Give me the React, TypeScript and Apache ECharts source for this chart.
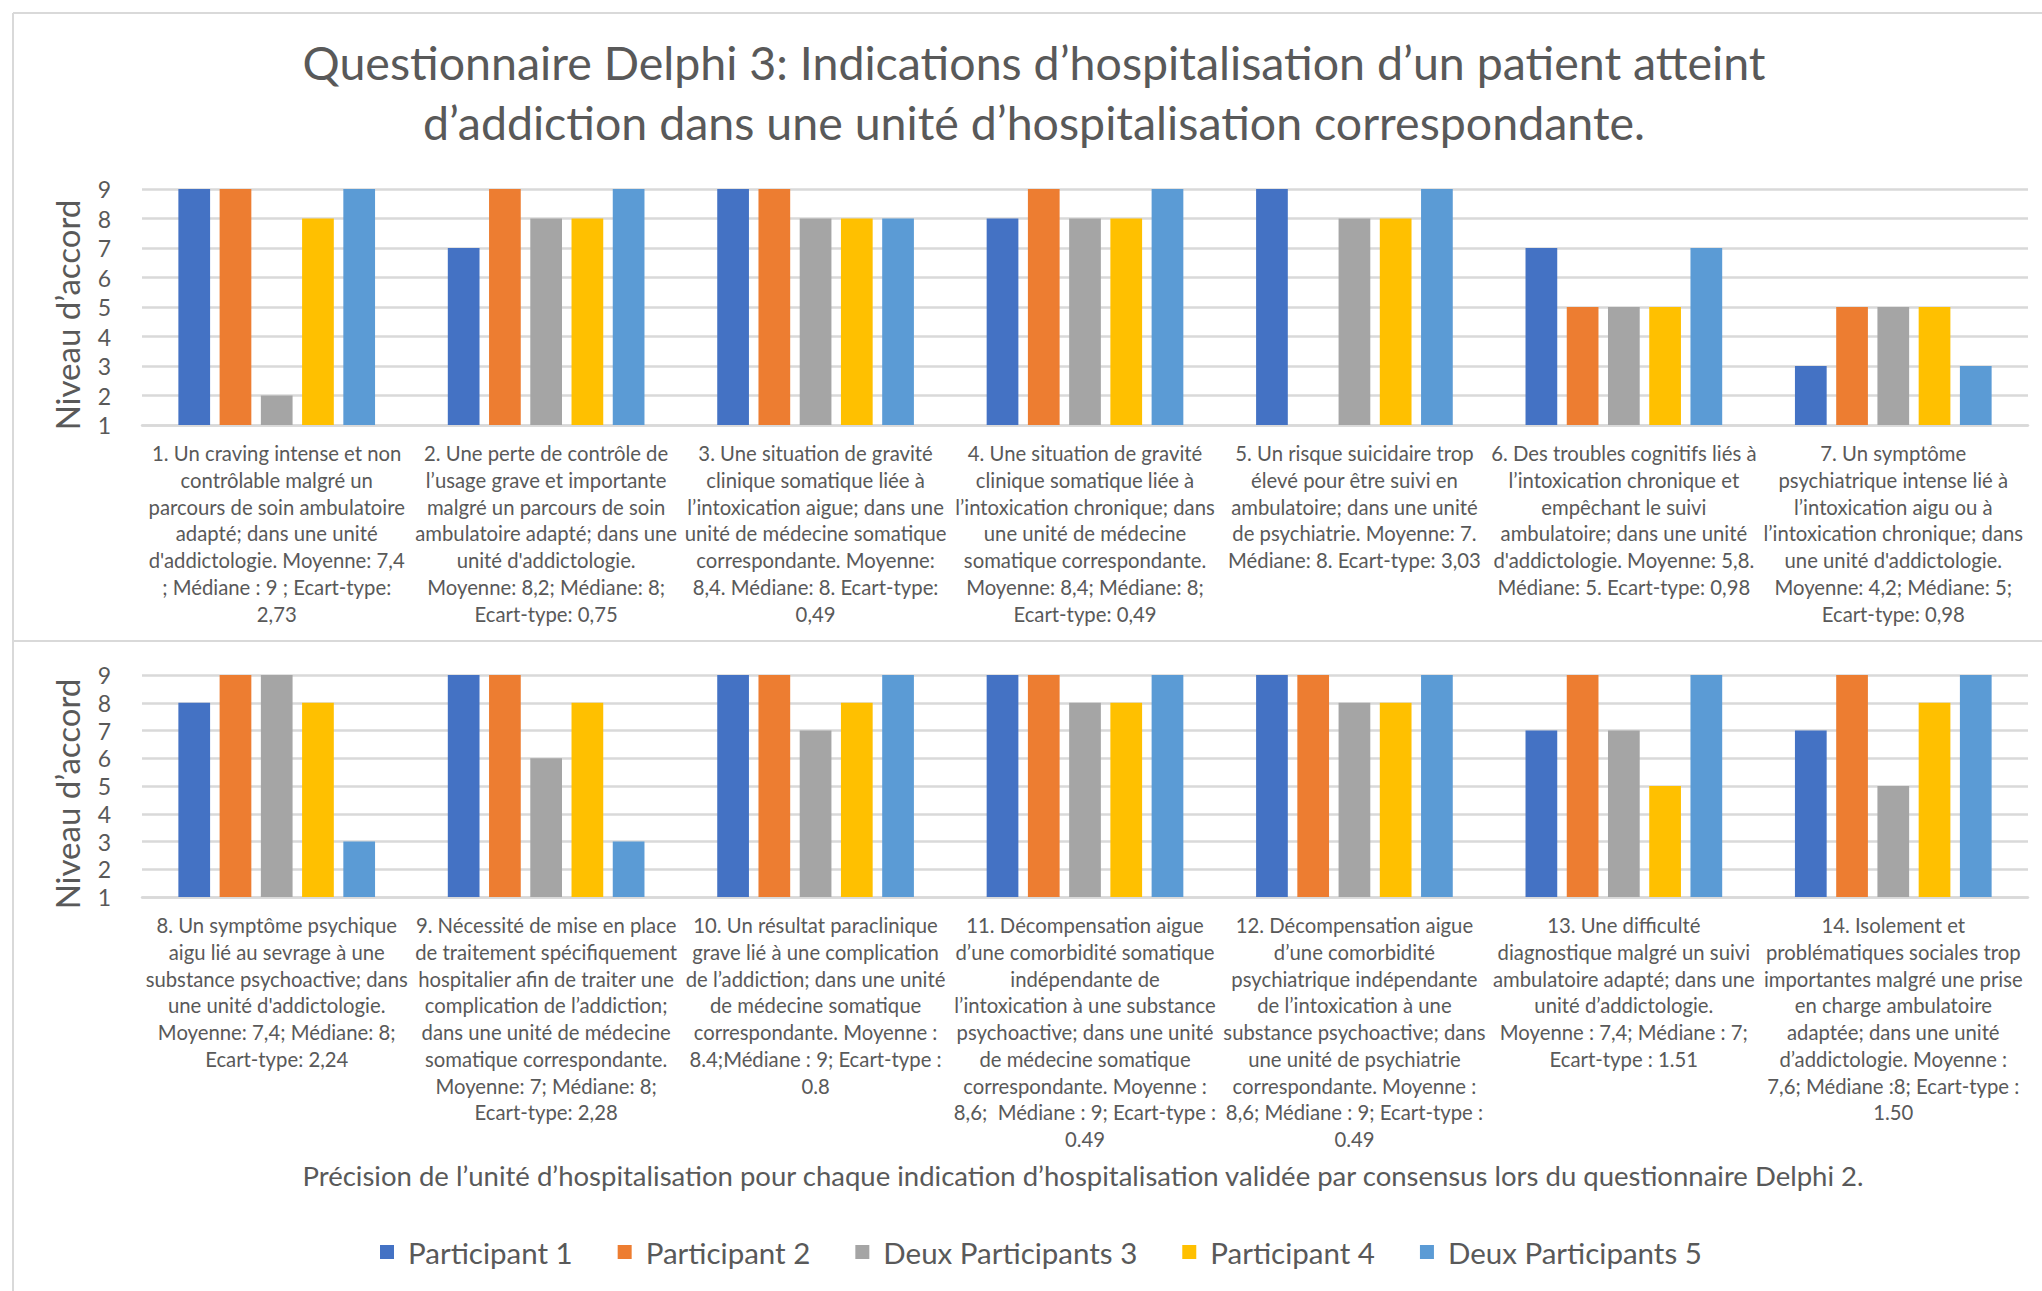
import React, { useEffect, useRef } from "react";
import * as echarts from "echarts";

const titleText =
  "Questionnaire Delphi 3: Indications d’hospitalisation d’un patient atteint\nd’addiction dans une unité d’hospitalisation correspondante.";
const captionText =
  "Précision de l’unité d’hospitalisation pour chaque indication d’hospitalisation validée par consensus lors du questionnaire Delphi 2.";
const yAxisName = "Niveau d’accord";

const categoriesTop = [
  "1. Un craving intense et non\ncontrôlable malgré un\nparcours de soin ambulatoire\nadapté; dans une unité\nd'addictologie. Moyenne: 7,4\n; Médiane : 9 ; Ecart-type:\n2,73",
  "2. Une perte de contrôle de\nl’usage grave et importante\nmalgré un parcours de soin\nambulatoire adapté; dans une\nunité d'addictologie.\nMoyenne: 8,2; Médiane: 8;\nEcart-type: 0,75",
  "3. Une situation de gravité\nclinique somatique liée à\nl’intoxication aigue; dans une\nunité de médecine somatique\ncorrespondante. Moyenne:\n8,4. Médiane: 8. Ecart-type:\n0,49",
  "4. Une situation de gravité\nclinique somatique liée à\nl’intoxication chronique; dans\nune unité de médecine\nsomatique correspondante.\nMoyenne: 8,4; Médiane: 8;\nEcart-type: 0,49",
  "5. Un risque suicidaire trop\nélevé pour être suivi en\nambulatoire; dans une unité\nde psychiatrie. Moyenne: 7.\nMédiane: 8. Ecart-type: 3,03",
  "6. Des troubles cognitifs liés à\nl’intoxication chronique et\nempêchant le suivi\nambulatoire; dans une unité\nd'addictologie. Moyenne: 5,8.\nMédiane: 5. Ecart-type: 0,98",
  "7. Un symptôme\npsychiatrique intense lié à\nl’intoxication aigu ou à\nl’intoxication chronique; dans\nune unité d'addictologie.\nMoyenne: 4,2; Médiane: 5;\nEcart-type: 0,98",
];

const categoriesBottom = [
  "8. Un symptôme psychique\naigu lié au sevrage à une\nsubstance psychoactive; dans\nune unité d'addictologie.\nMoyenne: 7,4; Médiane: 8;\nEcart-type: 2,24",
  "9. Nécessité de mise en place\nde traitement spécifiquement\nhospitalier afin de traiter une\ncomplication de l’addiction;\ndans une unité de médecine\nsomatique correspondante.\nMoyenne: 7; Médiane: 8;\nEcart-type: 2,28",
  "10. Un résultat paraclinique\ngrave lié à une complication\nde l’addiction; dans une unité\nde médecine somatique\ncorrespondante. Moyenne :\n8.4;Médiane : 9; Ecart-type :\n0.8",
  "11. Décompensation aigue\nd’une comorbidité somatique\nindépendante de\nl’intoxication à une substance\npsychoactive; dans une unité\nde médecine somatique\ncorrespondante. Moyenne :\n8,6;  Médiane : 9; Ecart-type :\n0.49",
  "12. Décompensation aigue\nd’une comorbidité\npsychiatrique indépendante\nde l’intoxication à une\nsubstance psychoactive; dans\nune unité de psychiatrie\ncorrespondante. Moyenne :\n8,6; Médiane : 9; Ecart-type :\n0.49",
  "13. Une difficulté\ndiagnostique malgré un suivi\nambulatoire adapté; dans une\nunité d’addictologie.\nMoyenne : 7,4; Médiane : 7;\nEcart-type : 1.51",
  "14. Isolement et\nproblématiques sociales trop\nimportantes malgré une prise\nen charge ambulatoire\nadaptée; dans une unité\nd’addictologie. Moyenne :\n7,6; Médiane :8; Ecart-type :\n1.50",
];

const seriesNames = [
  "Participant 1",
  "Participant 2",
  "Deux Participants 3",
  "Participant 4",
  "Deux Participants 5",
];
const seriesColors = ["#4472C4", "#ED7D31", "#A5A5A5", "#FFC000", "#5B9BD5"];

const p1Top = [9, 7, 9, 8, 9, 7, 3];
const p2Top = [9, 9, 9, 9, 1, 5, 5];
const p3Top = [2, 8, 8, 8, 8, 5, 5];
const p4Top = [8, 8, 8, 8, 8, 5, 5];
const p5Top = [9, 9, 8, 9, 9, 7, 3];

const p1Bottom = [8, 9, 9, 9, 9, 7, 7];
const p2Bottom = [9, 9, 9, 9, 9, 9, 9];
const p3Bottom = [9, 6, 7, 8, 8, 7, 5];
const p4Bottom = [8, 8, 8, 8, 8, 5, 8];
const p5Bottom = [3, 3, 9, 9, 9, 9, 9];

const yTicks = [1, 2, 3, 4, 5, 6, 7, 8, 9];

const FONT = "Lato";
const TXT = "#595959";
const GRID_LINE = "#D9D9D9";

export default function App() {
  const ref = useRef<HTMLDivElement>(null);

  useEffect(() => {
    if (!ref.current) return;
    const chart = echarts.init(ref.current, undefined, { renderer: "svg" });

    const topData = [p1Top, p2Top, p3Top, p4Top, p5Top];
    const bottomData = [p1Bottom, p2Bottom, p3Bottom, p4Bottom, p5Bottom];

    const makeX = (cats: string[], gridIndex: number) => ({
      type: "category",
      gridIndex,
      data: cats,
      axisTick: { show: false },
      axisLine: { show: true, lineStyle: { color: GRID_LINE, width: 2.5 } },
      axisLabel: {
        interval: 0,
        color: TXT,
        fontFamily: FONT,
        fontSize: 20.3,
        lineHeight: 26.7,
        margin: 15,
        align: "center",
      },
    });

    const makeY = (gridIndex: number) => ({
      type: "value",
      gridIndex,
      min: yTicks[0],
      max: yTicks[yTicks.length - 1],
      interval: 1,
      name: yAxisName,
      nameLocation: "middle",
      nameRotate: 90,
      nameGap: 59,
      nameTextStyle: {
        color: TXT,
        fontFamily: FONT,
        fontSize: 33,
        padding: [0, 16, 0, 0],
      },
      axisLine: { show: false },
      axisTick: { show: false },
      axisLabel: {
        color: TXT,
        fontFamily: FONT,
        fontSize: 23,
        lineHeight: 23,
        margin: 31,
        showMinLabel: true,
        showMaxLabel: true,
        hideOverlap: false,
      },
      splitLine: { show: true, lineStyle: { color: GRID_LINE, width: 2.5 } },
    });

    const series: any[] = [];
    [topData, bottomData].forEach((group, gi) => {
      group.forEach((vals, si) => {
        series.push({
          type: "bar",
          name: seriesNames[si],
          xAxisIndex: gi,
          yAxisIndex: gi,
          data: vals,
          itemStyle: { color: seriesColors[si] },
          barGap: "30%",
          barCategoryGap: "27%",
        });
      });
    });

    chart.setOption({
      animation: false,
      backgroundColor: "#ffffff",
      title: [
        {
          text: titleText,
          left: 1029,
          top: 27,
          textAlign: "center",
          textStyle: {
            color: TXT,
            fontFamily: FONT,
            fontSize: 46.5,
            fontWeight: "normal",
            lineHeight: 60,
          },
        },
        {
          text: captionText,
          left: 1078,
          top: 1154,
          textAlign: "center",
          textStyle: {
            color: TXT,
            fontFamily: FONT,
            fontSize: 27.5,
            fontWeight: "normal",
            lineHeight: 32,
          },
        },
      ],
      legend: {
        data: seriesNames,
        left: 375,
        top: 1232,
        itemWidth: 14,
        itemHeight: 14,
        itemGap: 45,
        icon: "rect",
        textStyle: {
          color: TXT,
          fontFamily: FONT,
          fontSize: 29.5,
          padding: [0, 0, 0, 9],
        },
      },
      grid: [
        { left: 142, right: 14, top: 189, height: 236 },
        { left: 142, right: 14, top: 675, height: 222 },
      ],
      xAxis: [makeX(categoriesTop, 0), makeX(categoriesBottom, 1)],
      yAxis: [makeY(0), makeY(1)],
      series,
      graphic: [
        {
          type: "line",
          shape: { x1: 13, y1: 13, x2: 2042, y2: 13 },
          style: { stroke: GRID_LINE, lineWidth: 2 },
        },
        {
          type: "line",
          shape: { x1: 13, y1: 13, x2: 13, y2: 1291 },
          style: { stroke: GRID_LINE, lineWidth: 2 },
        },
        {
          type: "line",
          shape: { x1: 13, y1: 641, x2: 2042, y2: 641 },
          style: { stroke: GRID_LINE, lineWidth: 2 },
        },
      ],
    });

    return () => chart.dispose();
  }, []);

  return (
    <div
      ref={ref}
      style={{
        position: "absolute",
        left: 0,
        top: 0,
        width: 2042,
        height: 1291,
        background: "#ffffff",
      }}
    />
  );
}
